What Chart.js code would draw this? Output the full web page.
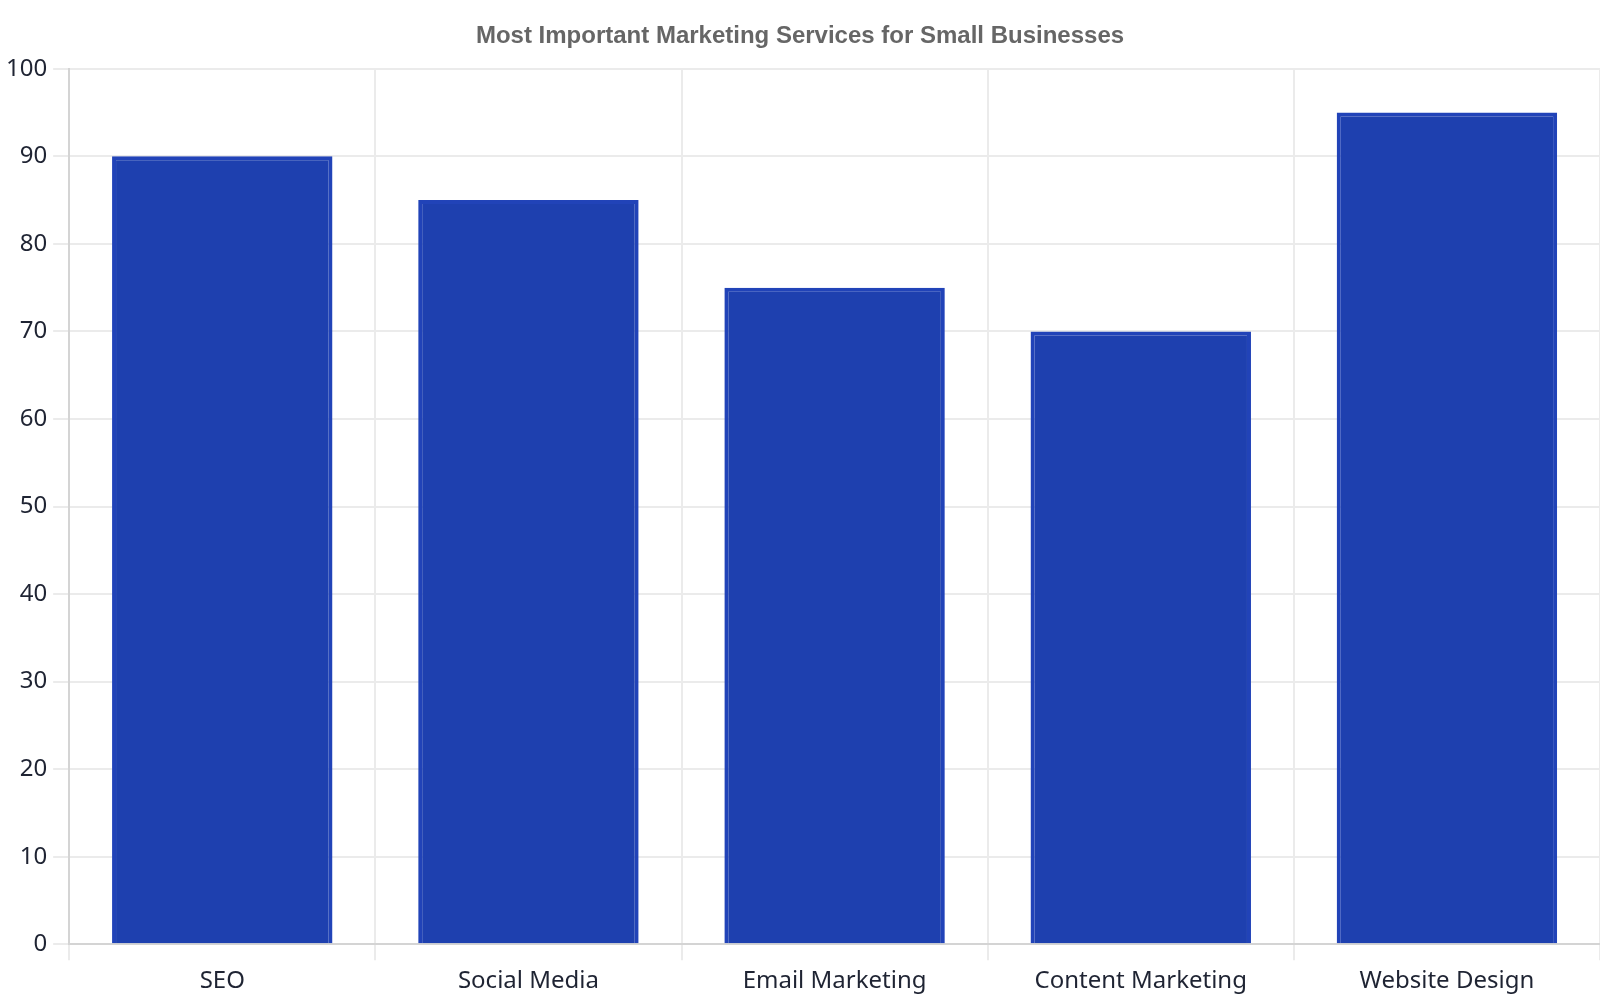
<!DOCTYPE html>
<html lang="en">
<head>
    <meta charset="UTF-8">
    <title>Most Important Marketing Services for Small Businesses</title>
    <script src="https://cdn.jsdelivr.net/npm/chart.js"></script>
    <style>
        html, body {
            margin: 0;
            padding: 0;
            background: #ffffff;
        }
        .wrap {
            width: 1600px;
            height: 1000px;
        }
    </style>
</head>
<body>
<div class="wrap">
    <canvas id="servicesChart" width="1600" height="1000"></canvas>
</div>
<script>
    // data
    const categories = ['SEO', 'Social Media', 'Email Marketing', 'Content Marketing', 'Website Design'];
    const importance = [90, 85, 75, 70, 95];
    const yTicks = [0, 10, 20, 30, 40, 50, 60, 70, 80, 90, 100];

    const tickFont = { family: "'Noto Sans', sans-serif", size: 24 };

    new Chart(document.getElementById('servicesChart'), {
        type: 'bar',
        data: {
            labels: categories,
            datasets: [{
                label: 'Importance',
                data: importance,
                backgroundColor: '#1e40af',
                borderColor: '#2143b8',
                borderWidth: 4
            }]
        },
        options: {
            responsive: false,
            animation: false,
            devicePixelRatio: 1,
            layout: { padding: { top: 22, left: 0, right: 0, bottom: -3 } },
            plugins: {
                legend: { display: false },
                title: {
                    display: true,
                    text: 'Most Important Marketing Services for Small Businesses',
                    color: '#666666',
                    font: { family: "'Liberation Sans', Arial, sans-serif", size: 24, weight: 'bold' },
                    padding: { top: 0, bottom: 18 }
                }
            },
            scales: {
                x: {
                    grid: { color: '#ebebeb', lineWidth: 2, tickLength: 16, offset: true },
                    border: { color: '#d4d4d4', width: 2 },
                    ticks: { color: '#1f2433', font: tickFont, padding: 7 }
                },
                y: {
                    min: 0,
                    max: 100,
                    afterBuildTicks: axis => { axis.ticks = yTicks.map(v => ({ value: v })); },
                    grid: { color: '#ebebeb', lineWidth: 2, tickLength: 16 },
                    border: { color: '#d4d4d4', width: 2 },
                    ticks: { color: '#1f2433', font: tickFont, padding: 6 }
                }
            }
        }
    });
</script>
</body>
</html>
